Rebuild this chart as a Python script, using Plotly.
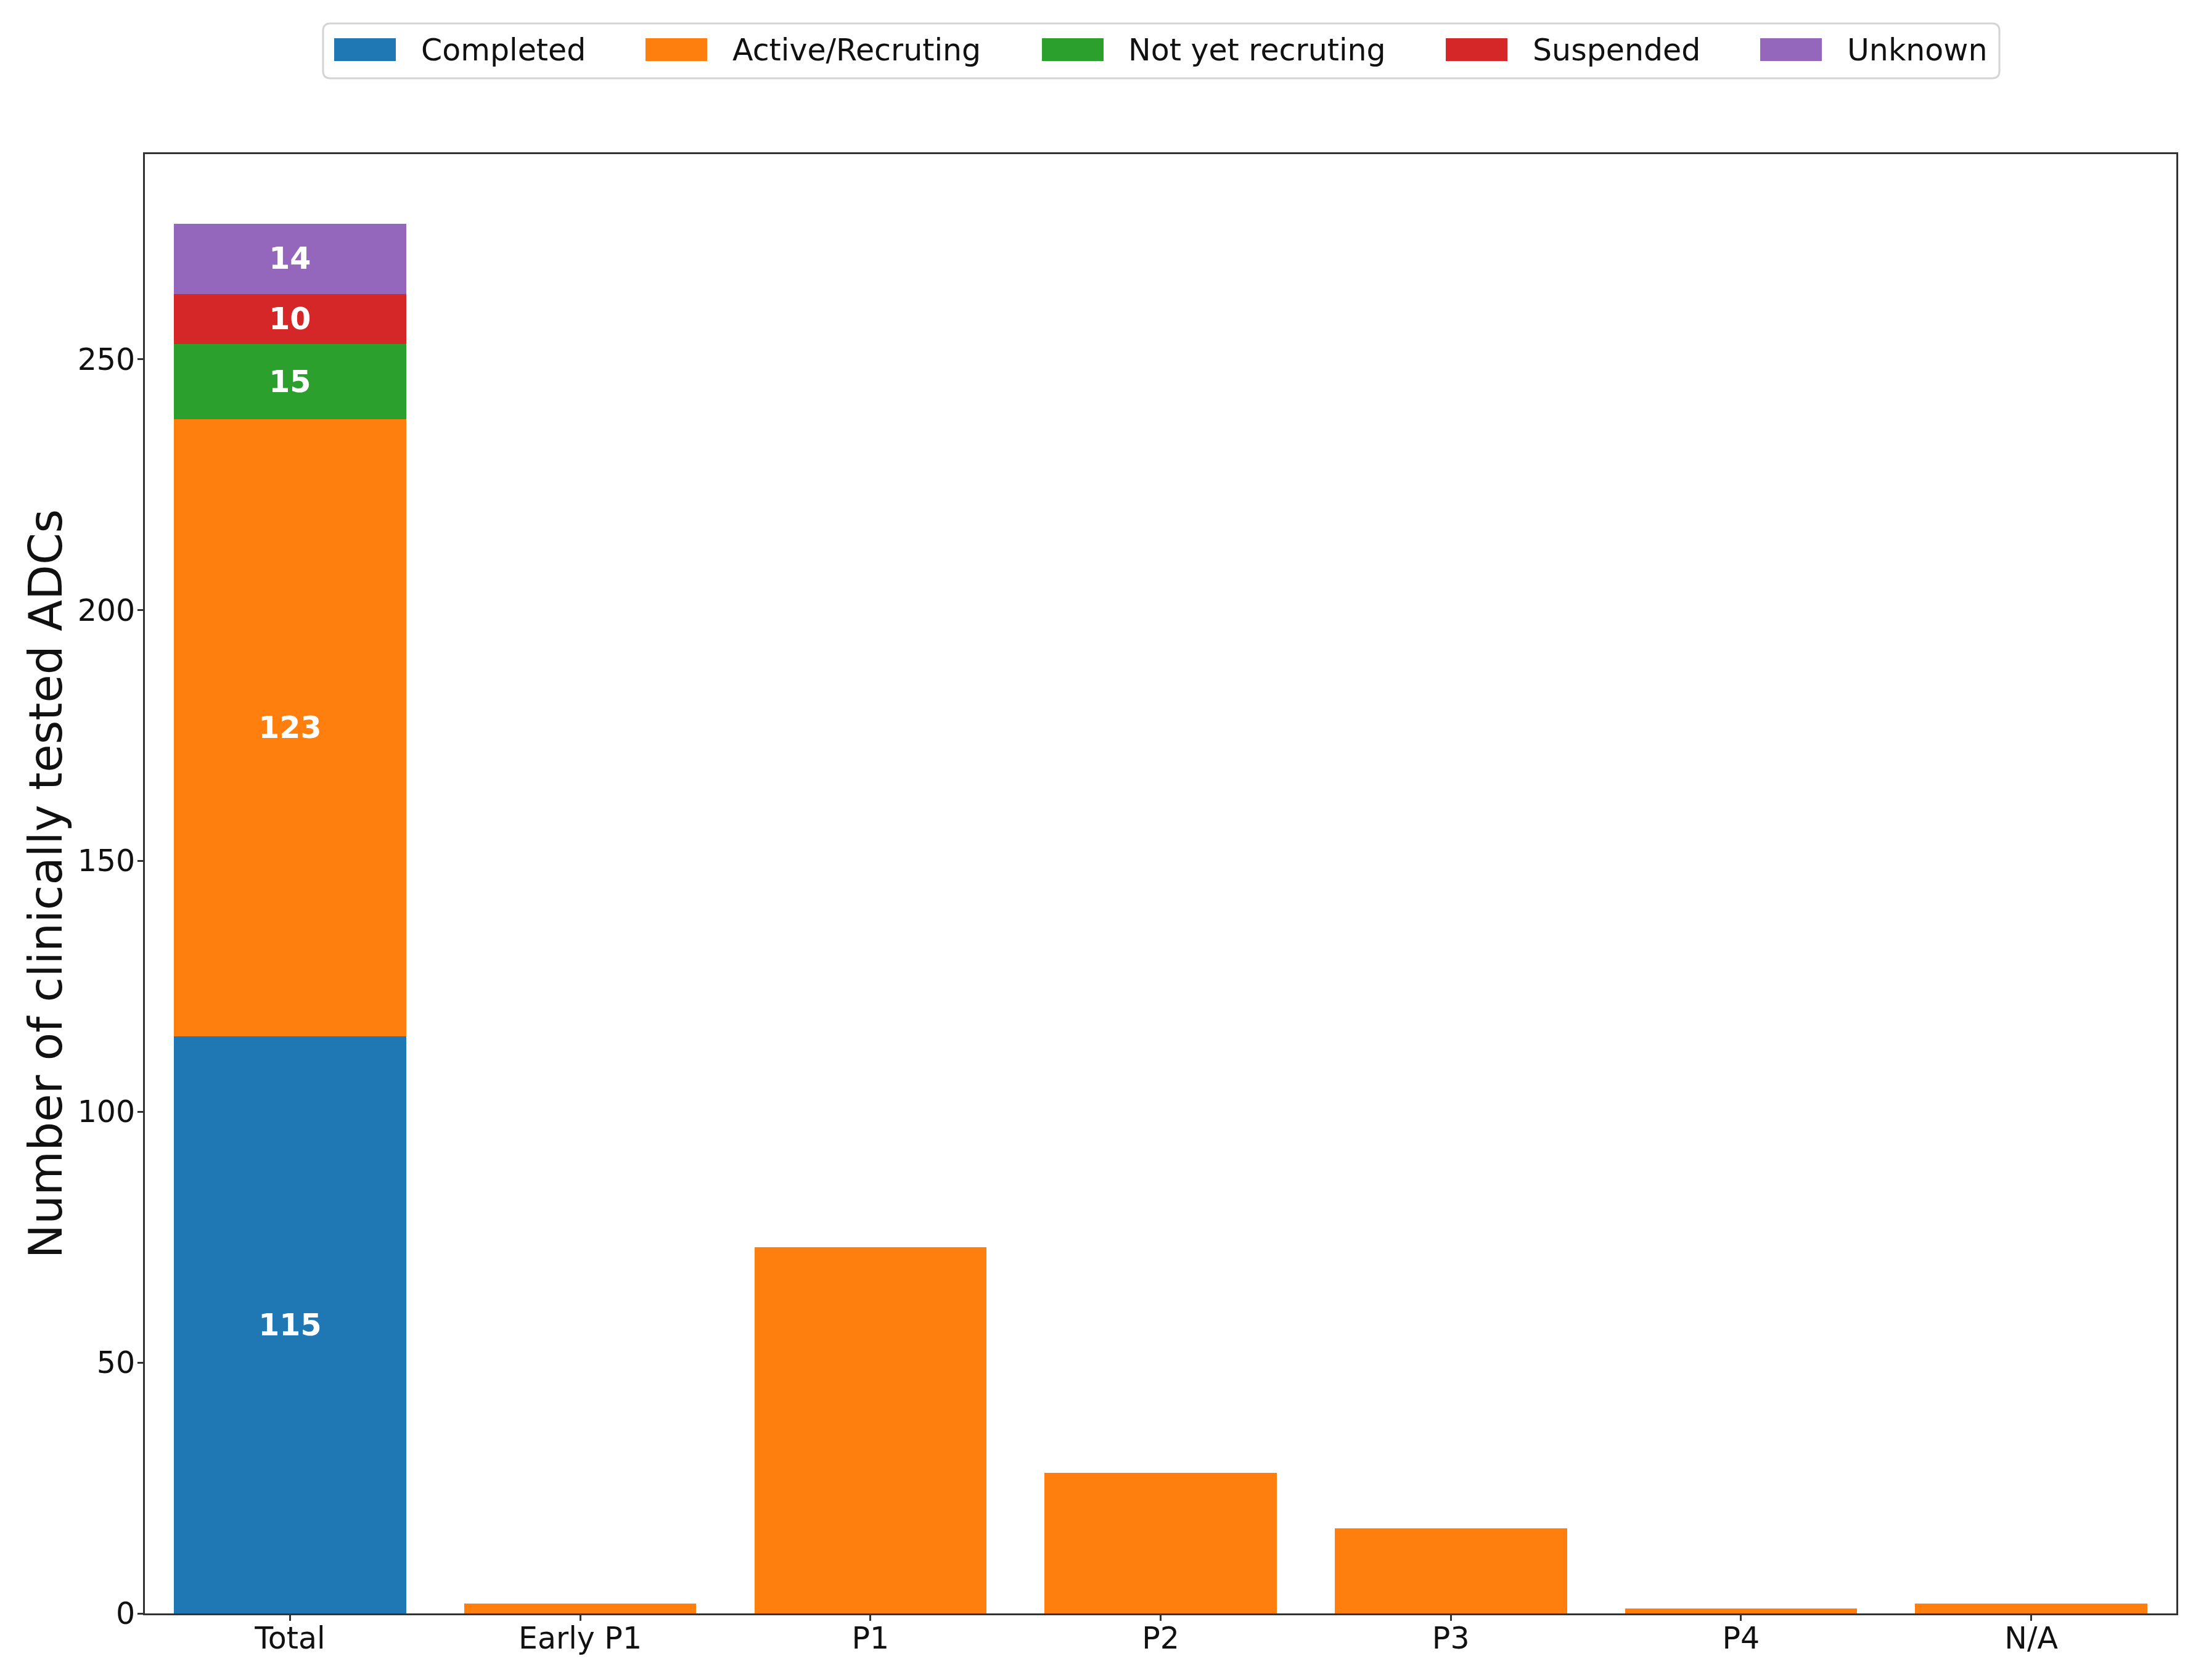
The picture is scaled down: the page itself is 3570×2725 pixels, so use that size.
import plotly.graph_objects as go

# ---------------- data ----------------
categories = ["Total", "Early P1", "P1", "P2", "P3", "P4", "N/A"]
completed = [115, 0, 0, 0, 0, 0, 0]
active_recruiting = [123, 2, 73, 28, 17, 1, 2]
not_yet_recruiting = [15, 0, 0, 0, 0, 0, 0]
suspended = [10, 0, 0, 0, 0, 0, 0]
unknown = [14, 0, 0, 0, 0, 0, 0]
series_names = ["Completed", "Active/Recruting", "Not yet recruting", "Suspended", "Unknown"]
series_colors = ["#1f77b4", "#ff7f0e", "#2ca02c", "#d62728", "#9467bd"]
y_ticks = [0, 50, 100, 150, 200, 250]
y_title = "Number of clinically tested ADCs"
labelled_category = "Total"

series_values = [completed, active_recruiting, not_yet_recruiting, suspended, unknown]

# ---------------- layout constants (page pixels) ----------------
PAGE_W, PAGE_H = 3570, 2725
OFF = 8  # default body margin of the html page
W, H = PAGE_W - 2 * OFF, PAGE_H - 2 * OFF
# plot area edges in page pixels
L, R, T, B = 235, 3530, 250, 2617
FONT = "DejaVu Sans"


def px(x):
    return (x - L) / (R - L)


def py(y):
    return (B - y) / (B - T)


fig = go.Figure()
for name, vals, col in zip(series_names, series_values, series_colors):
    labels = [str(v) if (c == labelled_category and v > 0) else "" for c, v in zip(categories, vals)]
    fig.add_trace(go.Bar(
        x=categories, y=vals, name=name,
        marker=dict(color=col, line=dict(width=0)),
        text=labels, textposition="inside", insidetextanchor="middle",
        textangle=0, constraintext="none",
        insidetextfont=dict(family=FONT, size=49, color="white", weight="bold"),
        showlegend=False,
    ))

totals = [sum(v) for v in zip(*series_values)]
ymax = max(totals) * 1.05

axis_common = dict(
    showline=True, linecolor="#333333", linewidth=3, mirror=True,
    ticks="outside", ticklen=9, tickwidth=2.5, tickcolor="#333333",
    showgrid=False, zeroline=False,
    tickfont=dict(family=FONT, size=49, color="#111111"),
)

fig.update_layout(
    width=W, height=H,
    margin=dict(l=L - OFF, r=W - (R - OFF), t=T - OFF, b=H - (B - OFF), pad=0),
    paper_bgcolor="white", plot_bgcolor="white",
    barmode="stack", bargap=0.2,
    xaxis=dict(**axis_common, range=[-0.5, len(categories) - 0.5], ticklabelstandoff=-14),
    yaxis=dict(**axis_common, range=[0, ymax], tickvals=y_ticks, ticklabelstandoff=-6,
               title=dict(text=y_title, font=dict(family=FONT, size=74, color="#111111"), standoff=1)),
    showlegend=False,
)

# ---------------- legend (matplotlib-style, drawn in paper space) ----------------
box_l, box_r, box_t, box_b, rad = 524, 3243, 38, 127, 12


def rounded_rect_path(x0, y0, x1, y1, r):
    pts = [
        f"M{px(x0 + r)},{py(y0)}",
        f"L{px(x1 - r)},{py(y0)}",
        f"Q{px(x1)},{py(y0)} {px(x1)},{py(y0 + r)}",
        f"L{px(x1)},{py(y1 - r)}",
        f"Q{px(x1)},{py(y1)} {px(x1 - r)},{py(y1)}",
        f"L{px(x0 + r)},{py(y1)}",
        f"Q{px(x0)},{py(y1)} {px(x0)},{py(y1 - r)}",
        f"L{px(x0)},{py(y0 + r)}",
        f"Q{px(x0)},{py(y0)} {px(x0 + r)},{py(y0)}",
    ]
    return " ".join(pts) + " Z"


fig.add_shape(type="path", xref="paper", yref="paper",
              path=rounded_rect_path(box_l, box_t, box_r, box_b, rad),
              line=dict(color="#d4d4d4", width=3), fillcolor="white", layer="above")

swatch_x = [542, 1047, 1690, 2345, 2855]
text_x = [681, 1186, 1828, 2484, 2994]
sw_w, sw_t, sw_b, text_y = 100, 62, 99, 82
for name, col, sx, tx in zip(series_names, series_colors, swatch_x, text_x):
    fig.add_shape(type="rect", xref="paper", yref="paper",
                  x0=px(sx), x1=px(sx + sw_w), y0=py(sw_b), y1=py(sw_t),
                  line=dict(width=0), fillcolor=col, layer="above")
    fig.add_annotation(xref="paper", yref="paper", x=px(tx), y=py(text_y),
                       text=name, showarrow=False, xanchor="left", yanchor="middle",
                       font=dict(family=FONT, size=49, color="#111111"))

fig.write_html("out.html")
